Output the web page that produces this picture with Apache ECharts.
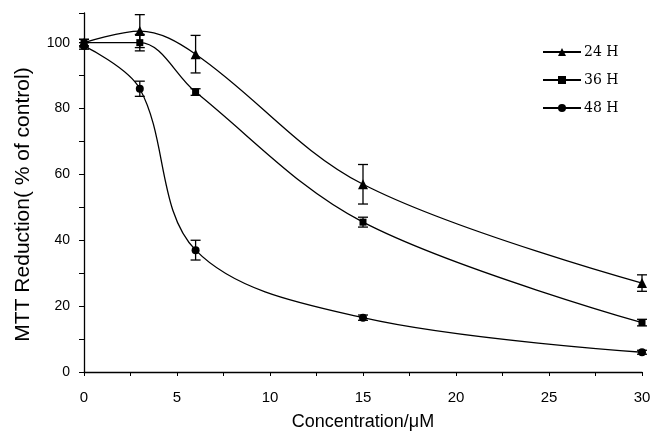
<!DOCTYPE html>
<html><head><meta charset="utf-8">
<script src="https://cdn.jsdelivr.net/npm/echarts@6/dist/echarts.min.js"></script>
<style>html,body{margin:0;padding:0;background:#fff}#c{width:656px;height:431px}</style>
</head><body><div id="c"></div>
<script>
const conc = [0, 3, 6, 15, 30];
const h24 = [100, 103.5, 96.5, 57, 27];
const e24 = [1, 5, 5.7, 6, 2.5];
const h36 = [100, 100, 85, 45.5, 15];
const e36 = [1, 2.5, 1, 1.5, 1];
const h48 = [99, 86, 37, 16.5, 6];
const e48 = [1, 2.3, 3, 0.8, 0.6];
const names = ['24 H', '36 H', '48 H'];
const xTicks = [0, 5, 10, 15, 20, 25, 30];
const yTicks = [0, 20, 40, 60, 80, 100];

const axisFont = '"Liberation Sans", Arial, sans-serif';
function pts(v) { return conc.map((x, i) => [x, v[i]]); }
function errData(v, e) { return conc.map((x, i) => [x, v[i] - e[i], v[i] + e[i]]); }
function errSeries(v, e) {
  return {
    type: 'custom', silent: true, z: 3,
    data: errData(v, e),
    renderItem: function (params, api) {
      const lo = api.coord([api.value(0), api.value(1)]);
      const hi = api.coord([api.value(0), api.value(2)]);
      const w = 5;
      const st = { stroke: '#000', lineWidth: 1.3 };
      return { type: 'group', children: [
        { type: 'line', shape: { x1: lo[0], y1: lo[1], x2: hi[0], y2: hi[1] }, style: st },
        { type: 'line', shape: { x1: lo[0] - w, y1: lo[1], x2: lo[0] + w, y2: lo[1] }, style: st },
        { type: 'line', shape: { x1: hi[0] - w, y1: hi[1], x2: hi[0] + w, y2: hi[1] }, style: st }
      ]};
    }
  };
}
function lineSeries(name, v, sym, size) {
  return {
    name: name, type: 'line', data: pts(v), smooth: 0.35,
    symbol: sym, symbolSize: size, showSymbol: true,
    lineStyle: { color: '#000', width: 1.3 },
    itemStyle: { color: '#000' }, z: 4
  };
}
const chart = echarts.init(document.getElementById('c'));
chart.setOption({
  animation: false,
  backgroundColor: '#fff',
  grid: { left: 84, right: 14, top: 13, bottom: 59, containLabel: false, outerBoundsMode: 'none' },
  legend: {
    orient: 'vertical', left: 537, top: 40, itemGap: 14,
    itemWidth: 38, itemHeight: 10,
    data: names,
    textStyle: { fontFamily: '"DejaVu Serif", "Liberation Serif", serif', fontSize: 14, color: '#000', padding: [0, 0, 0, -2] }
  },
  xAxis: {
    type: 'value', min: 0, max: 30, interval: 2.5,
    name: 'Concentration/μM', nameLocation: 'middle', nameGap: 41,
    nameTextStyle: { fontFamily: axisFont, fontSize: 18, color: '#000', verticalAlign: 'top' },
    splitLine: { show: false },
    axisLine: { lineStyle: { color: '#000', width: 1.3 } },
    axisTick: { lineStyle: { color: '#000' }, length: 4 },
    axisLabel: { color: '#000', fontFamily: axisFont, fontSize: 15, margin: 18,
      formatter: v => xTicks.indexOf(v) >= 0 ? String(v) : '' }
  },
  yAxis: {
    type: 'value', min: 0, max: 109, interval: 10,
    name: 'MTT Reduction( % of control)', nameLocation: 'middle', nameGap: 50,
    nameTextStyle: { fontFamily: axisFont, fontSize: 21, color: '#000', padding: [0, 24, 0, 0] },
    splitLine: { show: false },
    axisLine: { lineStyle: { color: '#000', width: 1.3 } },
    axisTick: { lineStyle: { color: '#000' }, length: 5 },
    axisLabel: { color: '#000', fontFamily: axisFont, fontSize: 14, margin: 14,
      formatter: v => yTicks.indexOf(v) >= 0 ? String(v) : '' }
  },
  series: [
    lineSeries(names[0], h24, 'triangle', 10),
    lineSeries(names[1], h36, 'rect', 7),
    lineSeries(names[2], h48, 'circle', 8),
    errSeries(h24, e24), errSeries(h36, e36), errSeries(h48, e48)
  ]
});
</script></body></html>
